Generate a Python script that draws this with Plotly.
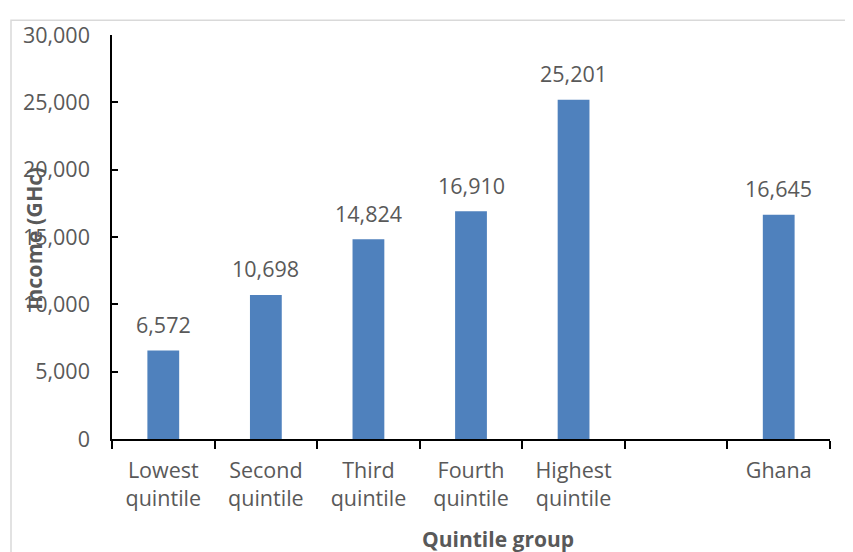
import plotly.graph_objects as go

categories = ["Lowest<br>quintile", "Second<br>quintile", "Third<br>quintile",
              "Fourth<br>quintile", "Highest<br>quintile", " ", "Ghana"]
income = [6572, 10698, 14824, 16910, 25201, None, 16645]
y_ticks = [0, 5000, 10000, 15000, 20000, 25000, 30000]
y_tick_labels = ["0", "5,000", "10,000", "15,000", "20,000", "25,000", "30,000"]

FONT = "Open Sans"
GRAY = "#595959"
FS = 21.5

# page offset of the figure (body margin) and target plot box in page pixels
OX, OY = 8, 8
PL, PR, PT, PB = 112, 830, 31, 439
W, H = 853 - OX, 552 - OY
PW, PH = PR - PL, PB - PT


def px_x(px):
    return (px - PL) / PW


def px_y(py):
    return (PB - py) / PH


fig = go.Figure()
fig.add_trace(go.Bar(
    x=categories, y=income,
    marker=dict(color="#4F81BD", line=dict(color="#4F81BD", width=0)),
    hoverinfo="x+y",
))

annotations = []
for c, v in zip(categories, income):
    if v is None:
        continue
    annotations.append(dict(
        x=c, y=v, xref="x", yref="y", text=f"{v:,}", showarrow=False,
        yanchor="middle", yshift=26,
        font=dict(family=FONT, size=FS, color=GRAY),
    ))

annotations.append(dict(
    xref="paper", yref="paper", x=px_x(498), y=px_y(540),
    text="<b>Quintile group</b>", showarrow=False, xanchor="center", yanchor="middle",
    font=dict(family=FONT, size=21, color=GRAY),
))
annotations.append(dict(
    xref="paper", yref="paper", x=px_x(34), y=px_y(237),
    text="<b>Income (GHc)</b>", showarrow=False, textangle=-90,
    xanchor="center", yanchor="middle",
    font=dict(family=FONT, size=21.5, color=GRAY),
))

fig.update_layout(
    width=W, height=H,
    margin=dict(l=PL - OX, r=W - (PR - OX), t=PT - OY, b=H - (PB - OY)),
    paper_bgcolor="white", plot_bgcolor="white",
    bargap=0.69,
    showlegend=False,
    annotations=annotations,
    font=dict(family=FONT, size=FS, color=GRAY),
    shapes=[dict(
        type="rect", xref="paper", yref="paper",
        x0=px_x(11), x1=px_x(870),
        y0=px_y(580), y1=px_y(16),
        line=dict(color="#D9D9D9", width=1.5), fillcolor="rgba(0,0,0,0)",
        layer="below",
    )],
)
fig.update_xaxes(
    type="category", showline=True, linecolor="black", linewidth=1.5,
    ticks="outside", ticklen=8, tickcolor="black", tickwidth=1.5,
    tickson="boundaries", showgrid=False, zeroline=False,
    ticklabelstandoff=11,
    tickfont=dict(family=FONT, size=FS, color=GRAY),
)
fig.update_yaxes(
    range=[0, 30000], tickvals=y_ticks, ticktext=y_tick_labels,
    showline=True, linecolor="black", linewidth=1.5,
    ticks="inside", ticklen=6, tickcolor="black", tickwidth=1.5,
    showgrid=False, zeroline=False, ticklabelstandoff=16,
    tickfont=dict(family=FONT, size=FS, color=GRAY),
)

fig.write_html("out.html")
